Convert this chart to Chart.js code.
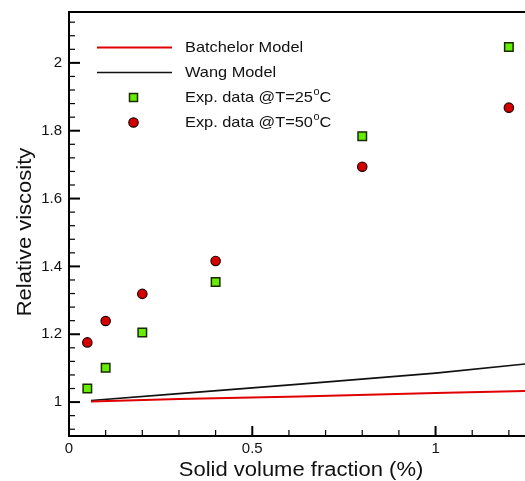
<!DOCTYPE html>
<html>
<head>
<meta charset="utf-8">
<script src="https://cdn.jsdelivr.net/npm/chart.js@4/dist/chart.umd.min.js"></script>
<style>
html,body{margin:0;padding:0;background:#fff;overflow:hidden;}
#wrap{position:relative;width:525px;height:481px;}
</style>
</head>
<body>
<div id="wrap"><canvas id="c" width="525" height="481"></canvas></div>
<script>
// ---- data ----
const expX = [0.05, 0.1, 0.2, 0.4, 0.8, 1.2];
const exp25 = [1.040, 1.101, 1.205, 1.354, 1.784, 2.047];
const exp50 = [1.176, 1.239, 1.319, 1.416, 1.694, 1.868];
const modelX = [0.06, 0.3, 0.63, 1.0, 1.25];
const batchelor = [1.002, 1.009, 1.0165, 1.0265, 1.033];
const wang = [1.0047, 1.025, 1.053, 1.0854, 1.113];
const xTicks = [0, 0.5, 1];
const yTicks = [1, 1.2, 1.4, 1.6, 1.8, 2];
const xTitle = 'Solid volume fraction (%)';
const yTitle = 'Relative viscosity';
const seriesNames = ['Batchelor Model', 'Wang Model', 'Exp. data @T=25', 'Exp. data @T=50'];

const FONT = 'Liberation Sans, Arial, sans-serif';
const SX = 1.09;

const toPts = (xs, ys) => xs.map((x, i) => ({x: x, y: ys[i]}));

const framePlugin = {
  id: 'frame',
  afterDatasetsDraw(chart) {
    const ctx = chart.ctx, a = chart.chartArea;
    const xs = chart.scales.x, ys = chart.scales.y;
    ctx.save();
    ctx.strokeStyle = '#000';
    // top border
    ctx.lineWidth = 2;
    ctx.beginPath(); ctx.moveTo(a.left - 1, a.top); ctx.lineTo(a.right + 10, a.top); ctx.stroke();
    // y ticks (inward)
    for (let k = 0; ; k++) {
      const v = 0.92 + k * 0.04;
      if (v > ys.max + 1e-9) break;
      const p = ys.getPixelForValue(v);
      const major = Math.abs(Math.round(v * 5) - v * 5) < 1e-6;
      ctx.lineWidth = major ? 2 : 1.2;
      ctx.beginPath(); ctx.moveTo(a.left, p); ctx.lineTo(a.left + (major ? 11 : 6), p); ctx.stroke();
    }
    // x ticks (inward)
    for (let k = 1; ; k++) {
      const v = k * 0.1;
      if (v > xs.max + 1e-9) break;
      const p = xs.getPixelForValue(v);
      const major = k % 5 === 0;
      ctx.lineWidth = major ? 2 : 1.2;
      ctx.beginPath(); ctx.moveTo(p, a.bottom); ctx.lineTo(p, a.bottom - (major ? 10 : 6)); ctx.stroke();
    }
    // legend
    const ds = chart.data.datasets;
    const lx0 = a.left + 28, lx1 = a.left + 103, tx = a.left + 116;
    const rowY = [a.top + 35.5, a.top + 60.5, a.top + 85.5, a.top + 110.5];
    for (let i = 0; i < 4; i++) {
      const d = ds[i], y = rowY[i];
      if (i < 2) {
        ctx.strokeStyle = d.borderColor; ctx.lineWidth = d.borderWidth;
        ctx.beginPath(); ctx.moveTo(lx0, y); ctx.lineTo(lx1, y); ctx.stroke();
      } else {
        const cx = (lx0 + lx1) / 2 - 1;
        ctx.fillStyle = d.pointBackgroundColor; ctx.strokeStyle = d.pointBorderColor; ctx.lineWidth = d.pointBorderWidth;
        ctx.beginPath();
        if (d.pointStyle === 'rect') { ctx.rect(cx - 4, y - 4, 8, 8); }
        else { ctx.arc(cx, y, 4.7, 0, Math.PI * 2); }
        ctx.fill(); ctx.stroke();
      }
      ctx.save();
      ctx.translate(tx, y);
      ctx.scale(SX, 1);
      ctx.font = '15px ' + FONT;
      ctx.textBaseline = 'middle';
      ctx.textAlign = 'left';
      ctx.fillStyle = '#111';
      ctx.fillText(d.label, 0, 0);
      if (i >= 2) {
        const w = ctx.measureText(d.label).width;
        ctx.font = '10px ' + FONT;
        ctx.fillText('o', w + 0.5, -5);
        const wo = ctx.measureText('o').width;
        ctx.font = '15px ' + FONT;
        ctx.fillText('C', w + wo + 0.5, 0);
      }
      ctx.restore();
    }
    // axis titles
    ctx.fillStyle = '#111';
    ctx.textAlign = 'center';
    ctx.textBaseline = 'middle';
    ctx.save();
    ctx.translate(301, 470);
    ctx.scale(1.1, 1);
    ctx.font = '20px ' + FONT;
    ctx.fillText(xTitle, 0, 0);
    ctx.restore();
    ctx.save();
    ctx.translate(25, 232);
    ctx.rotate(-Math.PI / 2);
    ctx.scale(1.1, 1);
    ctx.font = '20px ' + FONT;
    ctx.fillText(yTitle, 0, 0);
    ctx.restore();
    ctx.restore();
  }
};

new Chart(document.getElementById('c'), {
  type: 'scatter',
  data: {
    datasets: [
      {label: seriesNames[0], data: toPts(modelX, batchelor), showLine: true, borderColor: '#e00000', borderWidth: 2, pointRadius: 0, fill: false, tension: 0, order: 3},
      {label: seriesNames[1], data: toPts(modelX, wang), showLine: true, borderColor: '#111111', borderWidth: 1.6, pointRadius: 0, fill: false, tension: 0, order: 4},
      {label: seriesNames[2], data: toPts(expX, exp25), pointStyle: 'rect', pointRadius: 6, pointBackgroundColor: '#66ee00', pointBorderColor: '#1a2a00', pointBorderWidth: 1.5, order: 1},
      {label: seriesNames[3], data: toPts(expX, exp50), pointStyle: 'circle', pointRadius: 4.7, pointBackgroundColor: '#d40000', pointBorderColor: '#200000', pointBorderWidth: 1.2, order: 2}
    ]
  },
  options: {
    responsive: false,
    animation: false,
    events: [],
    layout: {autoPadding: false, padding: {left: 0, right: 0, top: 12, bottom: 0}},
    plugins: {legend: {display: false}, tooltip: {enabled: false}},
    scales: {
      x: {
        type: 'linear', min: 0, max: 1.244,
        afterBuildTicks: s => { s.ticks = xTicks.map(v => ({value: v})); },
        afterFit: s => { s.height = 45; s.paddingLeft = 0; s.paddingRight = 0; },
        grid: {display: false, drawTicks: false},
        border: {display: true, color: '#000', width: 2},
        ticks: {padding: 4, color: '#111', font: {family: FONT, size: 15}, maxRotation: 0, autoSkip: false,
                callback: v => String(+(+v).toFixed(2))}
      },
      y: {
        type: 'linear', min: 0.9, max: 2.15,
        afterBuildTicks: s => { s.ticks = yTicks.map(v => ({value: v})); },
        afterFit: s => { s.width = 69; s.paddingTop = 0; s.paddingBottom = 0; },
        grid: {display: false, drawTicks: false},
        border: {display: true, color: '#000', width: 2},
        ticks: {padding: 7, color: '#111', font: {family: FONT, size: 15}, autoSkip: false,
                callback: v => String(+(+v).toFixed(2))}
      }
    }
  },
  plugins: [framePlugin]
});
</script>
</body>
</html>
